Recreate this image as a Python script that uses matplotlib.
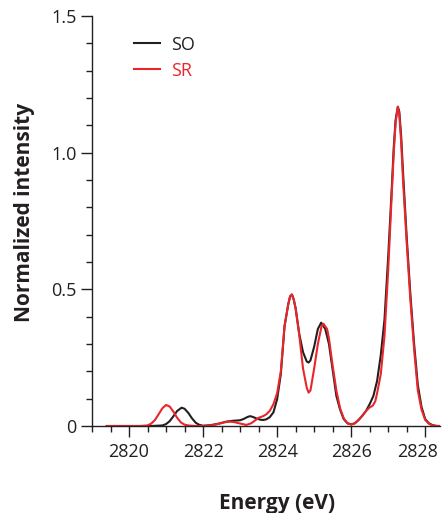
import matplotlib
matplotlib.use("Agg")
import matplotlib.pyplot as plt
import matplotlib.transforms as mtransforms
from matplotlib.ticker import MultipleLocator, FuncFormatter

## Donnees (energie en eV, intensite normalisee)
energy_so = [2819.4, 2820.0, 2820.6, 2820.9, 2821.0, 2821.1, 2821.2, 2821.3, 2821.42, 2821.5,
             2821.6, 2821.7, 2821.8, 2821.9, 2822.0, 2822.2, 2822.4, 2822.63, 2822.8, 2823.0,
             2823.1, 2823.2, 2823.27, 2823.35, 2823.45, 2823.55, 2823.62, 2823.7, 2823.8, 2823.9,
             2824.0, 2824.1, 2824.2, 2824.3, 2824.35, 2824.4, 2824.45, 2824.5, 2824.6, 2824.7,
             2824.8, 2824.85, 2824.9, 2825.0, 2825.1, 2825.19, 2825.3, 2825.4, 2825.5, 2825.6,
             2825.7, 2825.8, 2825.9, 2826.0, 2826.1, 2826.2, 2826.3, 2826.4, 2826.5, 2826.6,
             2826.7, 2826.8, 2826.9, 2827.0, 2827.1, 2827.15, 2827.2, 2827.26, 2827.3, 2827.35,
             2827.4, 2827.5, 2827.6, 2827.7, 2827.8, 2827.9, 2828.0, 2828.1, 2828.2, 2828.3,
             2828.4]
so = [0.0, 0.0, 0.0, 0.002, 0.007, 0.018, 0.036, 0.055, 0.067, 0.063,
      0.048, 0.028, 0.012, 0.004, 0.001, 0.003, 0.008, 0.016, 0.019, 0.021,
      0.026, 0.033, 0.036, 0.033, 0.027, 0.023, 0.022, 0.024, 0.032, 0.05,
      0.098, 0.19, 0.365, 0.445, 0.474, 0.481, 0.462, 0.43, 0.335, 0.27,
      0.236, 0.232, 0.24, 0.29, 0.355, 0.378, 0.355, 0.30, 0.205, 0.11,
      0.06, 0.025, 0.01, 0.006, 0.01, 0.022, 0.037, 0.055, 0.08, 0.11,
      0.165, 0.26, 0.39, 0.62, 0.88, 1.02, 1.12, 1.168, 1.15, 1.06,
      0.93, 0.69, 0.48, 0.30, 0.15, 0.07, 0.025, 0.01, 0.003, 0.0,
      0.0]

energy_sr = [2819.4, 2820.3, 2820.5, 2820.6, 2820.7, 2820.8, 2820.9, 2821.0, 2821.1, 2821.2,
             2821.3, 2821.4, 2821.5, 2821.6, 2821.8, 2822.0, 2822.2, 2822.4, 2822.6, 2822.72,
             2822.85, 2823.0, 2823.17, 2823.3, 2823.4, 2823.5, 2823.62, 2823.7, 2823.8, 2823.9,
             2824.0, 2824.1, 2824.2, 2824.3, 2824.35, 2824.4, 2824.45, 2824.5, 2824.6, 2824.7,
             2824.8, 2824.85, 2824.9, 2825.0, 2825.1, 2825.2, 2825.25, 2825.35, 2825.4, 2825.5,
             2825.6, 2825.7, 2825.8, 2825.9, 2826.0, 2826.1, 2826.2, 2826.3, 2826.4, 2826.5,
             2826.58, 2826.65, 2826.7, 2826.8, 2826.9, 2827.0, 2827.1, 2827.15, 2827.2, 2827.26,
             2827.3, 2827.35, 2827.4, 2827.5, 2827.6, 2827.7, 2827.8, 2827.9, 2828.0, 2828.1,
             2828.2, 2828.35, 2828.4]
sr = [0.0, 0.0, 0.002, 0.009, 0.022, 0.043, 0.065, 0.077, 0.071, 0.052,
      0.03, 0.013, 0.005, 0.002, 0.0, 0.0, 0.002, 0.007, 0.014, 0.016,
      0.014, 0.009, 0.004, 0.01, 0.02, 0.03, 0.036, 0.042, 0.055, 0.08,
      0.12, 0.20, 0.365, 0.445, 0.474, 0.481, 0.462, 0.43, 0.33, 0.21,
      0.14, 0.122, 0.13, 0.21, 0.30, 0.365, 0.374, 0.355, 0.32, 0.22,
      0.13, 0.065, 0.028, 0.01, 0.005, 0.01, 0.022, 0.038, 0.055, 0.068,
      0.074, 0.09, 0.12, 0.19, 0.33, 0.57, 0.86, 1.00, 1.11, 1.168,
      1.14, 1.04, 0.90, 0.67, 0.46, 0.28, 0.13, 0.06, 0.022, 0.008,
      0.002, 0.0, 0.0]

labels = ["SO", "SR"]
colors = ["#231f20", "#e8262b"]

plt.rcParams['font.family'] = ['Open Sans', 'DejaVu Sans']

fig = plt.figure(figsize=(4.43, 5.13), dpi=100)
ax = fig.add_axes([0.2077, 0.1696, 0.7856, 0.7992])

ax.plot(energy_so, so, color=colors[0], lw=1.5, label=labels[0])
ax.plot(energy_sr, sr, color=colors[1], lw=1.5, label=labels[1])

ax.set_xlim(2819.0, 2828.4)
ax.set_ylim(0, 1.5)

# axes style
for s in ["top", "right"]:
    ax.spines[s].set_visible(False)
for s in ["left", "bottom"]:
    ax.spines[s].set_color("#231f20")
    ax.spines[s].set_linewidth(1.0)

ax.xaxis.set_major_locator(MultipleLocator(2))
ax.xaxis.set_minor_locator(MultipleLocator(0.5))
ax.yaxis.set_major_locator(MultipleLocator(0.5))
ax.yaxis.set_minor_locator(MultipleLocator(0.1))
ax.yaxis.set_major_formatter(FuncFormatter(lambda v, p: "0" if v == 0 else "%.1f" % v))
ax.xaxis.set_major_formatter(FuncFormatter(lambda v, p: "%d" % v))

ax.tick_params(which="major", length=8, width=1.0, color="#231f20", labelsize=13, labelcolor="#231f20")
ax.tick_params(which="minor", length=4.5, width=1.0, color="#231f20")
ax.tick_params(axis="x", which="major", pad=4)
ax.tick_params(axis="y", which="major", pad=3)

# le dernier label (2828) est decale vers la gauche pour rester dans l'image
fig.canvas.draw()
last = [t for t in ax.get_xticklabels() if t.get_text() == "2828"]
for t in last:
    t.set_transform(t.get_transform() + mtransforms.ScaledTranslation(-0.08, 0, fig.dpi_scale_trans))

ax.set_xlabel("Energy (eV)", fontsize=15, fontweight="bold", color="#231f20")
ax.xaxis.set_label_coords(0.532, -0.163)
ax.set_ylabel("Normalized intensity", fontsize=15, fontweight="bold", color="#231f20", va="center")
ax.yaxis.set_label_coords(-0.194, 0.521)

ax.legend(loc="upper left", bbox_to_anchor=(0.1, 0.97), frameon=False, fontsize=13,
          handlelength=1.45, handletextpad=0.6, labelspacing=0.45, borderaxespad=0,
          labelcolor="linecolor")

plt.savefig("out.png", dpi=100)
